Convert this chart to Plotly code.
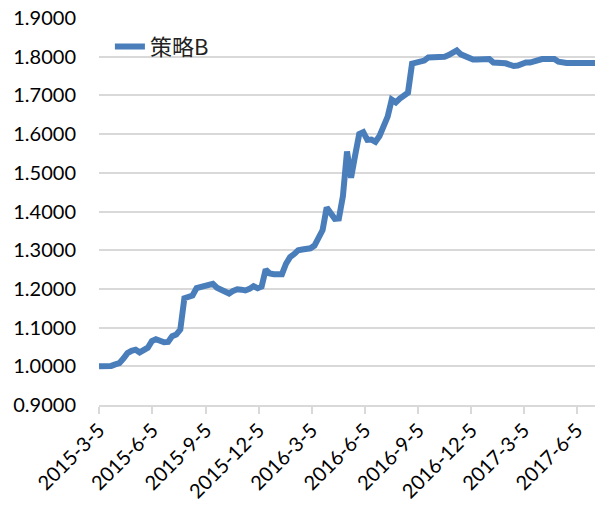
import pandas as pd
import plotly.graph_objects as go

start_date = "2015-03-05"
series_name = "策略B"
values = [
    1.000, 1.000, 1.000, 1.001, 1.005, 1.008, 1.020, 1.034, 1.040, 1.043,
    1.036, 1.043, 1.048, 1.065, 1.070, 1.066, 1.062, 1.063, 1.078, 1.082,
    1.095, 1.176, 1.180, 1.183, 1.202, 1.204, 1.206, 1.210, 1.213, 1.203,
    1.198, 1.195, 1.188, 1.195, 1.199, 1.198, 1.196, 1.200, 1.207, 1.202,
    1.206, 1.250, 1.240, 1.238, 1.237, 1.238, 1.265, 1.282, 1.290, 1.300,
    1.302, 1.302, 1.305, 1.312, 1.335, 1.352, 1.410, 1.395, 1.381, 1.382,
    1.440, 1.555, 1.487, 1.545, 1.600, 1.605, 1.585, 1.586, 1.580, 1.595,
    1.625, 1.645, 1.689, 1.682, 1.692, 1.698, 1.707, 1.782, 1.784, 1.785,
    1.790, 1.798, 1.798, 1.798, 1.798, 1.800, 1.804, 1.812, 1.816, 1.806,
    1.801, 1.797, 1.793, 1.793, 1.794, 1.795, 1.794, 1.785, 1.783, 1.784,
    1.783, 1.778, 1.776, 1.777, 1.782, 1.785, 1.785, 1.788, 1.793, 1.794,
    1.794, 1.794, 1.794, 1.787, 1.784, 1.784, 1.784, 1.784, 1.784, 1.784,
    1.784, 1.784, 1.784,
]
dates = pd.date_range(start_date, periods=len(values), freq="7D")

tick_dates = ["2015-03-05", "2015-06-05", "2015-09-05", "2015-12-05", "2016-03-05",
              "2016-06-05", "2016-09-05", "2016-12-05", "2017-03-05", "2017-06-05"]
tick_labels = ["2015-3-5", "2015-6-5", "2015-9-5", "2015-12-5", "2016-3-5",
               "2016-6-5", "2016-9-5", "2016-12-5", "2017-3-5", "2017-6-5"]
y_ticks = [0.9, 1.0, 1.1, 1.2, 1.3, 1.4, 1.5, 1.6, 1.7, 1.8, 1.9]

fig = go.Figure()
fig.add_trace(go.Scatter(
    x=dates, y=values, mode="lines", name=series_name,
    line=dict(color="#4a7ebb", width=6),
))

font_main = "Lato, Liberation Sans, sans-serif"
fig.update_layout(
    width=595, height=507,
    margin=dict(l=99, r=0, t=18, b=102, autoexpand=False),
    paper_bgcolor="white", plot_bgcolor="white",
    showlegend=True,
    legend=dict(x=0.022, y=0.926, xanchor="left", yanchor="middle",
                font=dict(family="Noto Sans CJK SC", size=22, color="#222"),
                bgcolor="rgba(0,0,0,0)"),
    font=dict(family=font_main, size=20, color="#000"),
)
fig.update_xaxes(
    type="date", automargin=False,
    range=[dates[0], dates[-1]],
    tickvals=tick_dates, ticktext=tick_labels, tickangle=-45,
    ticks="outside", ticklen=7, tickcolor="#d9d9d9", tickwidth=1.5,
    ticklabelstandoff=-3,
    showline=True, linecolor="#d9d9d9", linewidth=1.5,
    showgrid=False, zeroline=False,
    tickfont=dict(family=font_main, size=20, color="#000"),
)
fig.update_yaxes(
    range=[0.9, 1.9], tickvals=y_ticks, tickformat=".4f", automargin=False,
    showgrid=True, gridcolor="#d9d9d9", gridwidth=1.5,
    zeroline=False, showline=False, ticks="",
    ticklabelstandoff=22,
    tickfont=dict(family=font_main, size=20, color="#000"),
)
fig.write_html("out.html", config={"displayModeBar": False},
               post_script="document.body.style.margin='0';")
